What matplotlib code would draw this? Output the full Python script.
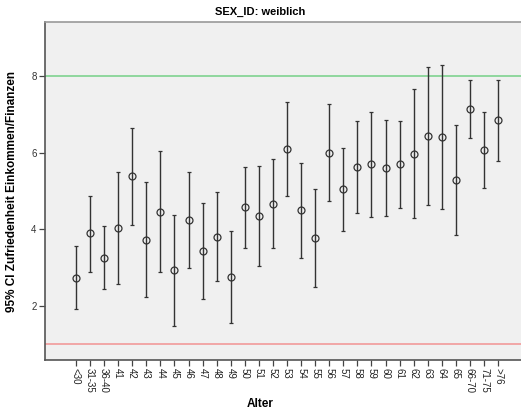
import matplotlib
matplotlib.use("Agg")
import matplotlib.pyplot as plt
import numpy as np

plt.rcParams['font.family'] = ['Liberation Sans', 'DejaVu Sans']

# Age groups
categories = ["<30", "31-35", "36-40", "41", "42", "43", "44", "45", "46", "47",
              "48", "49", "50", "51", "52", "53", "54", "55", "56", "57",
              "58", "59", "60", "61", "62", "63", "64", "65", "66-70", "71-75", ">76"]

# Mean satisfaction and 95% CI bounds per age group
means = [2.73, 3.89, 3.25, 4.04, 5.38, 3.73, 4.46, 2.93, 4.24, 3.43,
         3.80, 2.74, 4.58, 4.35, 4.67, 6.09, 4.49, 3.78, 6.00, 5.05,
         5.63, 5.70, 5.61, 5.70, 5.98, 6.44, 6.40, 5.30, 7.14, 6.07, 6.85]
lower = [1.91, 2.89, 2.43, 2.58, 4.12, 2.22, 2.87, 1.48, 2.99, 2.18,
         2.64, 1.54, 3.52, 3.04, 3.52, 4.86, 3.26, 2.48, 4.74, 3.96,
         4.43, 4.33, 4.35, 4.56, 4.29, 4.64, 4.52, 3.86, 6.38, 5.09, 5.78]
upper = [3.56, 4.88, 4.08, 5.50, 6.65, 5.23, 6.04, 4.36, 5.50, 4.68,
         4.97, 3.95, 5.64, 5.65, 5.84, 7.33, 5.73, 5.06, 7.28, 6.13,
         6.84, 7.07, 6.86, 6.83, 7.68, 8.25, 8.29, 6.73, 7.91, 7.07, 7.90]

# Reference lines
ref_high = 8
ref_low = 1

x = np.arange(len(categories))
means_a = np.array(means)
yerr = np.vstack([means_a - np.array(lower), np.array(upper) - means_a])

fig = plt.figure(figsize=(5.21, 4.17), dpi=100)
ax = fig.add_axes([45 / 521, 1 - 360 / 417, 1 - 45 / 521, (360 - 22) / 417])
ax.set_facecolor("#f0f0f0")

ax.axhline(ref_high, color="#7ed38f", linewidth=1.2, zorder=1)
ax.axhline(ref_low, color="#f29a9a", linewidth=1.2, zorder=1)

ax.errorbar(x, means, yerr=yerr, fmt="o", markersize=5, markerfacecolor="none",
            markeredgecolor="#333333", markeredgewidth=0.9, ecolor="#333333",
            elinewidth=1.0, capsize=1.5, capthick=1.0, zorder=3)

ax.set_xlim(-2.2, 31.63)
ax.set_ylim(0.58, 9.42)

ax.set_yticks([2, 4, 6, 8])
ax.set_yticklabels(["2", "4", "6", "8"], fontsize=7, color="#333333")
ax.set_xticks(x)
ax.set_xticklabels(categories, rotation=270, fontsize=7, color="#222222")
ax.tick_params(axis="both", direction="out", length=4, width=0.9, color="#444444", pad=2)

for side in ("left", "bottom"):
    ax.spines[side].set_color("#555555")
    ax.spines[side].set_linewidth(1.2)
ax.spines["top"].set_color("#999999")
ax.spines["top"].set_linewidth(1.2)
ax.spines["right"].set_visible(False)

fig.text(0.5, 1 - 12 / 417, "SEX_ID: weiblich", ha="center", va="center",
         fontsize=8, fontweight="bold")
fig.text(0.5, 1 - 404 / 417, "Alter", ha="center", va="center",
         fontsize=8.5, fontweight="bold")
fig.text(12 / 521, 1 - 191 / 417, "95% CI Zufriedenheit Einkommen/Finanzen",
         ha="center", va="center", rotation=90, fontsize=8.5, fontweight="bold")

fig.savefig("out.png", dpi=100)
